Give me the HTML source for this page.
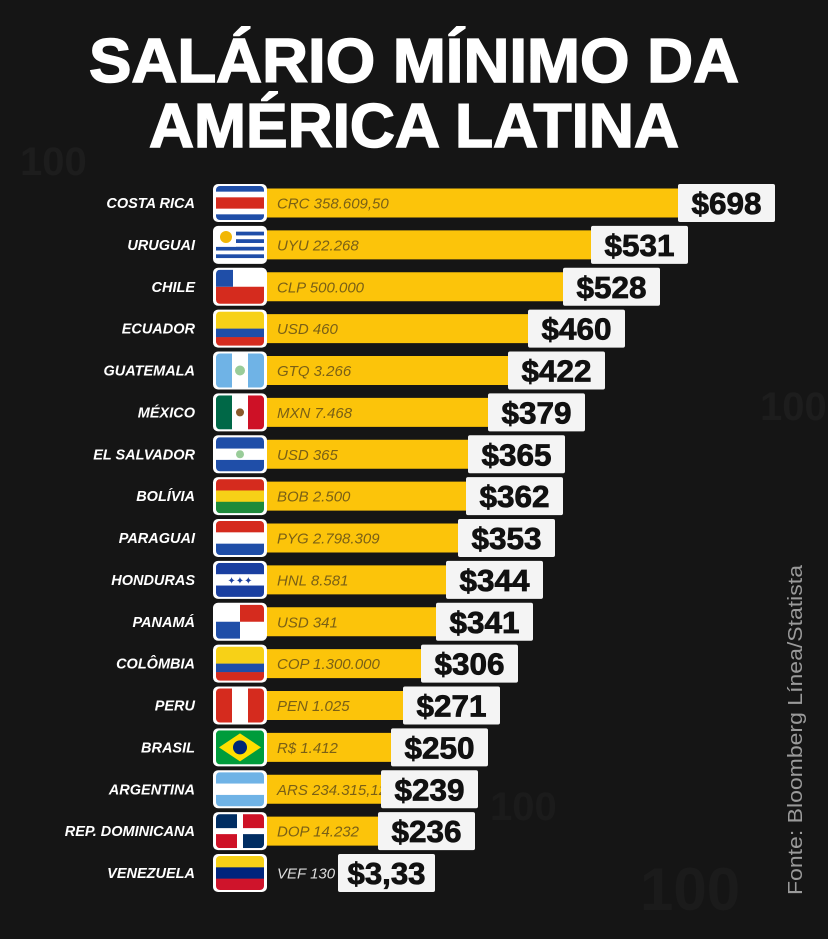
<!DOCTYPE html>
<html><head><meta charset="utf-8"><style>
html,body{margin:0;padding:0;background:#141414;}
svg{display:block}
</style></head><body>
<svg id="s" width="828" height="939" viewBox="0 0 828 939" xmlns="http://www.w3.org/2000/svg">
<rect width="828" height="939" fill="#151515"/>
<g opacity="0.8">
<text x="20" y="175" font-family="Liberation Sans" font-size="40" font-weight="bold" fill="#1f1f1f">100</text>
<text x="760" y="420" font-family="Liberation Sans" font-size="40" font-weight="bold" fill="#1f1f1f">100</text>
<text x="640" y="910" font-family="Liberation Sans" font-size="60" font-weight="bold" fill="#1d1d1d">100</text>
<text x="490" y="820" font-family="Liberation Sans" font-size="40" font-weight="bold" fill="#1d1d1d">100</text>
</g>
<text x="414" y="82" text-anchor="middle" font-family="Liberation Sans" font-weight="bold" font-size="62" fill="#fff" stroke="#fff" stroke-width="1.5" textLength="650" lengthAdjust="spacingAndGlyphs">SALÁRIO MÍNIMO DA</text>
<text x="414" y="147" text-anchor="middle" font-family="Liberation Sans" font-weight="bold" font-size="62" fill="#fff" stroke="#fff" stroke-width="1.5" textLength="530" lengthAdjust="spacingAndGlyphs">AMÉRICA LATINA</text>
<text transform="translate(802,895) rotate(-90)" font-family="Liberation Sans" font-size="20" fill="#9a9a9a" textLength="330" lengthAdjust="spacingAndGlyphs">Fonte: Bloomberg Línea/Statista</text>
<g id="rows"></g>
</svg>
<script>
var d=[
["COSTA RICA","CRC 358.609,50","$698",775,"cr"],
["URUGUAI","UYU 22.268","$531",688,"uy"],
["CHILE","CLP 500.000","$528",660,"cl"],
["ECUADOR","USD 460","$460",625,"ec"],
["GUATEMALA","GTQ 3.266","$422",605,"gt"],
["MÉXICO","MXN 7.468","$379",585,"mx"],
["EL SALVADOR","USD 365","$365",565,"sv"],
["BOLÍVIA","BOB 2.500","$362",563,"bo"],
["PARAGUAI","PYG 2.798.309","$353",555,"py"],
["HONDURAS","HNL 8.581","$344",543,"hn"],
["PANAMÁ","USD 341","$341",533,"pa"],
["COLÔMBIA","COP 1.300.000","$306",518,"co"],
["PERU","PEN 1.025","$271",500,"pe"],
["BRASIL","R$ 1.412","$250",488,"br"],
["ARGENTINA","ARS 234.315,12","$239",478,"ar"],
["REP. DOMINICANA","DOP 14.232","$236",475,"do"],
["VENEZUELA","VEF 130","$3,33",435,"ve"]];
function hs(y,h,cols){var o='';var tot=0;cols.forEach(function(c){tot+=c[1]});var yy=y;cols.forEach(function(c){var hh=h*c[1]/tot;o+='<rect x="216" y="'+yy+'" width="48" height="'+(hh+0.3)+'" fill="'+c[0]+'"/>';yy+=hh;});return o;}
function vs(y,h,cols){var o='';cols.forEach(function(c,i){o+='<rect x="'+(216+i*16)+'" y="'+y+'" width="16.3" height="'+h+'" fill="'+c+'"/>';});return o;}
function flag(k,y,h){
var B="#1f4ea8",R="#d52b1e",W="#fff",Y="#f7d117",G="#1e8a3a",LB="#6fb3e6";
switch(k){
case"cr":return hs(y,h,[[B,1],[W,1],[R,2],[W,1],[B,1]]);
case"uy":return hs(y,h,[[W,1],[B,1],[W,1],[B,1],[W,1],[B,1],[W,1],[B,1],[W,1]])+'<rect x="216" y="'+y+'" width="20" height="'+(h*5/9)+'" fill="#fff"/><circle cx="226" cy="'+(y+h*0.27)+'" r="6" fill="#f2b705"/>';
case"cl":return hs(y,h,[[W,1],[R,1]])+'<rect x="216" y="'+y+'" width="17" height="'+h/2+'" fill="'+B+'"/>';
case"ec":case"co":return hs(y,h,[[Y,2],[B,1],[R,1]]);
case"gt":return vs(y,h,[LB,W,LB])+'<circle cx="240" cy="'+(y+h/2)+'" r="5" fill="#9c9"/>';
case"mx":return vs(y,h,["#006847",W,"#ce1126"])+'<circle cx="240" cy="'+(y+h/2)+'" r="4" fill="#8a5a2b"/>';
case"sv":return hs(y,h,[[B,1],[W,1],[B,1]])+'<circle cx="240" cy="'+(y+h/2)+'" r="4" fill="#9c9"/>';
case"bo":return hs(y,h,[[R,1],[Y,1],[G,1]]);
case"py":return hs(y,h,[[R,1],[W,1],[B,1]]);
case"hn":return hs(y,h,[["#1a3fa0",1],[W,1],["#1a3fa0",1]])+'<text x="240" y="'+(y+h/2+4)+'" text-anchor="middle" font-size="10" fill="#1a3fa0">✦✦✦</text>';
case"pa":return '<rect x="216" y="'+y+'" width="48" height="'+h+'" fill="#fff"/><rect x="240" y="'+y+'" width="24" height="'+h/2+'" fill="'+R+'"/><rect x="216" y="'+(y+h/2)+'" width="24" height="'+h/2+'" fill="'+B+'"/>';
case"pe":return vs(y,h,[R,W,R]);
case"br":return '<rect x="216" y="'+y+'" width="48" height="'+h+'" fill="#009c3b"/><polygon points="240,'+(y+3)+' 261,'+(y+h/2)+' 240,'+(y+h-3)+' 219,'+(y+h/2)+'" fill="#ffdf00"/><circle cx="240" cy="'+(y+h/2)+'" r="7" fill="#002776"/>';
case"ar":return hs(y,h,[[LB,1],[W,1],[LB,1]]);
case"do":return '<rect x="216" y="'+y+'" width="48" height="'+h+'" fill="#fff"/><rect x="216" y="'+y+'" width="21" height="'+(h/2-3)+'" fill="#002d62"/><rect x="243" y="'+y+'" width="21" height="'+(h/2-3)+'" fill="#ce1126"/><rect x="216" y="'+(y+h/2+3)+'" width="21" height="'+(h/2-3)+'" fill="#ce1126"/><rect x="243" y="'+(y+h/2+3)+'" width="21" height="'+(h/2-3)+'" fill="#002d62"/>';
case"ve":return hs(y,h,[[Y,1],["#00247d",1],["#cf142b",1]]);
}return'';}
var o='';
d.forEach(function(r,i){
var c=203+i*41.875;
var bl=r[3]-97;
if(r[4]!="ve")o+='<rect x="262" y="'+(c-14.5)+'" width="'+(bl-262+4)+'" height="29" fill="#fcc40a"/>';
o+='<text x="195" y="'+(c+5)+'" text-anchor="end" font-family="Liberation Sans" font-weight="bold" font-style="italic" font-size="14.5" fill="#fff">'+r[0]+'</text>';
o+='<rect x="213" y="'+(c-19)+'" width="54" height="38" rx="5" fill="#fff"/>';
o+='<clipPath id="f'+i+'"><rect x="216" y="'+(c-17)+'" width="48" height="34" rx="4"/></clipPath><g clip-path="url(#f'+i+')">'+flag(r[4],c-17,34)+'</g>';
o+='<text x="277" y="'+(c+5.5)+'" font-family="Liberation Sans" font-style="italic" font-size="15" fill="'+(r[4]=="ve"?"#ddd":"#7a6016")+'">'+r[1]+'</text>';
o+='<rect x="'+bl+'" y="'+(c-19)+'" width="97" height="38" rx="2" fill="#f4f4f4"/>';
o+='<text x="'+(bl+48.5)+'" y="'+(c+11)+'" text-anchor="middle" font-family="Liberation Sans" font-weight="bold" font-size="31" fill="#111" stroke="#111" stroke-width="0.8" textLength="'+(r[2].length>4?78:70)+'" lengthAdjust="spacingAndGlyphs">'+r[2]+'</text>';
});
document.getElementById('rows').innerHTML=o;
</script>
</body></html>
